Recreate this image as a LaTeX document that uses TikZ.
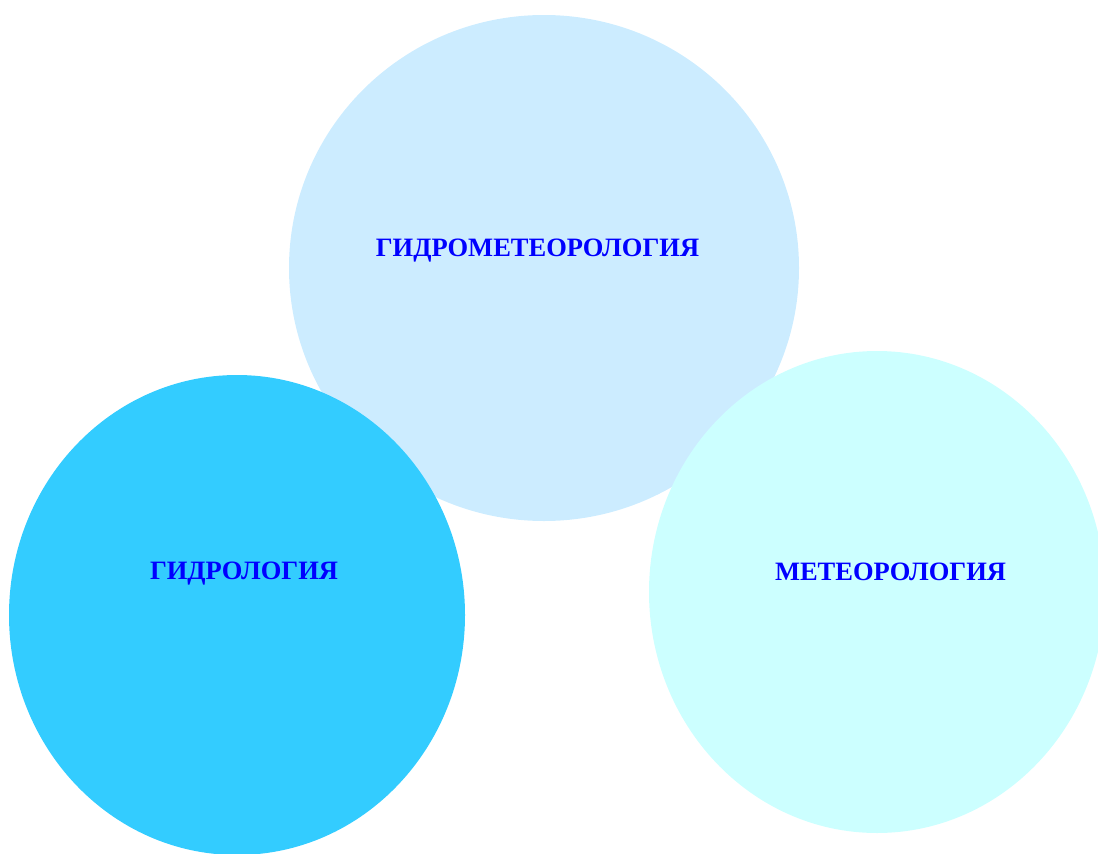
\documentclass[tikz,border=0pt]{standalone}
\usepackage{fontspec}
\setmainfont{Liberation Serif}
\definecolor{topc}{HTML}{CCECFF}
\definecolor{leftc}{HTML}{33CCFF}
\definecolor{rightc}{HTML}{CCFFFF}
\definecolor{txt}{HTML}{0000FF}
\begin{document}
\begin{tikzpicture}[x=1pt,y=-1pt,
  lbl/.style={text=txt,font=\fontsize{26.5}{30}\selectfont\bfseries,inner sep=0pt,anchor=base}]
\useasboundingbox (0,0) rectangle (1098,854);
\clip (0,0) rectangle (1098,854);
\fill[topc] (544,268) ellipse [x radius=255, y radius=253];
\fill[leftc] (237,615) ellipse [x radius=228, y radius=240];
\fill[rightc] (877,592) ellipse [x radius=228, y radius=241];
\node[lbl] (hm) at (537.5,256) {ГИДРОМЕТЕОРОЛОГИЯ};
\node[lbl] (hy) at (244,579) {ГИДРОЛОГИЯ};
\node[lbl] (me) at (890.5,580) {МЕТЕОРОЛОГИЯ};
\end{tikzpicture}
\end{document}
